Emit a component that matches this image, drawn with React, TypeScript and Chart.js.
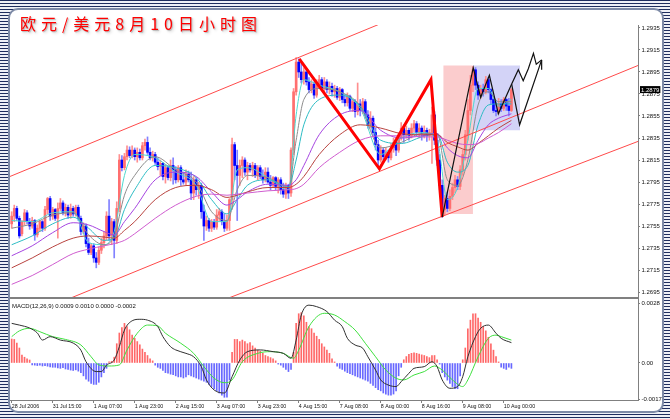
import React, { useEffect, useRef } from "react";
import { Chart, registerables } from "chart.js";

Chart.register(...registerables);

const FONT = '"Liberation Sans", Arial, sans-serif';

// ---------- price data (EUR/USD hourly, values in 1/10000, e.g. 12757 = 1.2757) ----------
const OPEN = [
  12757,12764,12771,12762,12748,12759,12767,12759,12755,12760,
  12747,12753,12759,12753,12770,12780,12764,12770,12762,12771,
  12776,12767,12772,12765,12771,12766,12772,12762,12750,12755,
  12739,12731,12737,12726,12722,12733,12740,12746,12764,12746,
  12759,12742,12771,12815,12808,12818,12824,12819,12824,12818,
  12822,12817,12828,12831,12822,12817,12820,12813,12809,12812,
  12800,12808,12799,12810,12806,12797,12808,12797,12795,12802,
  12797,12785,12797,12788,12792,12768,12755,12760,12753,12759,
  12754,12765,12768,12759,12753,12760,12779,12829,12810,12801,
  12810,12815,12804,12810,12806,12810,12801,12808,12800,12797,
  12804,12795,12792,12799,12791,12797,12788,12784,12792,12785,
  12824,12877,12904,12895,12888,12895,12886,12879,12884,12874,
  12883,12888,12880,12886,12879,12882,12877,12880,12872,12879,
  12870,12867,12873,12862,12868,12859,12866,12860,12868,12856,
  12847,12853,12840,12829,12815,12824,12818,12822,12817,12826,
  12831,12824,12835,12844,12838,12842,12837,12844,12848,12840,
  12844,12839,12842,12837,12840,12856,12833,12815,12792,12770,
  12780,12771,12782,12790,12797,12791,12806,12820,12838,12860,
  12883,12897,12883,12874,12880,12877,12888,12879,12870,12860,
  12859,12866,12862,12870,12864,12860,
];
const HIGH = [
  12768,12774,12773,12764,12760,12770,12769,12762,12763,12761,
  12756,12760,12760,12773,12781,12782,12772,12771,12776,12780,
  12778,12775,12774,12775,12773,12774,12774,12764,12758,12757,
  12744,12739,12739,12731,12736,12744,12750,12768,12779,12762,
  12761,12777,12820,12819,12821,12828,12827,12828,12826,12826,
  12825,12831,12834,12836,12826,12823,12822,12817,12815,12813,
  12811,12810,12815,12817,12809,12810,12810,12804,12806,12805,
  12804,12800,12799,12795,12794,12774,12764,12762,12761,12761,
  12770,12771,12770,12766,12765,12780,12835,12831,12824,12815,
  12818,12817,12813,12812,12813,12812,12810,12810,12806,12808,
  12808,12801,12800,12800,12799,12799,12794,12794,12793,12826,
  12880,12908,12907,12903,12899,12897,12890,12888,12886,12888,
  12892,12890,12890,12888,12886,12885,12883,12882,12881,12880,
  12874,12876,12874,12870,12870,12885,12870,12871,12870,12860,
  12859,12855,12844,12833,12828,12826,12826,12824,12830,12835,
  12833,12839,12849,12847,12846,12844,12848,12851,12850,12848,
  12846,12846,12844,12843,12863,12859,12839,12820,12797,12783,
  12786,12788,12794,12801,12800,12810,12824,12842,12870,12892,
  12900,12899,12886,12883,12884,12891,12890,12880,12871,12868,
  12871,12870,12872,12871,12871,12880,
];
const LOW = [
  12753,12759,12760,12744,12746,12756,12757,12752,12753,12742,
  12745,12750,12750,12751,12766,12760,12761,12760,12744,12769,
  12765,12764,12762,12762,12764,12764,12760,12747,12748,12736,
  12729,12729,12722,12717,12720,12730,12735,12742,12742,12738,
  12726,12739,12768,12805,12806,12815,12817,12817,12815,12813,
  12815,12815,12824,12820,12815,12814,12811,12806,12801,12797,
  12794,12797,12796,12793,12794,12795,12792,12793,12792,12795,
  12779,12779,12783,12780,12762,12742,12751,12750,12750,12752,
  12752,12760,12756,12750,12751,12751,12770,12797,12760,12792,
  12799,12801,12797,12804,12800,12799,12797,12798,12794,12795,
  12794,12788,12790,12788,12785,12784,12781,12780,12780,12782,
  12820,12874,12890,12885,12884,12883,12876,12876,12871,12872,
  12880,12878,12877,12876,12875,12873,12872,12870,12869,12867,
  12864,12864,12860,12859,12854,12856,12855,12857,12853,12844,
  12844,12837,12824,12808,12813,12815,12815,12813,12815,12822,
  12819,12822,12833,12831,12835,12833,12835,12840,12837,12835,
  12833,12835,12832,12833,12812,12829,12810,12788,12763,12765,
  12768,12769,12779,12785,12788,12788,12801,12815,12833,12856,
  12877,12879,12870,12871,12873,12875,12876,12866,12858,12855,
  12857,12859,12860,12860,12855,12859,
];
const CLOSE = [
  12764,12771,12762,12746,12759,12767,12759,12755,12760,12747,
  12753,12759,12753,12770,12780,12764,12770,12762,12771,12776,
  12767,12772,12765,12771,12766,12772,12762,12750,12755,12739,
  12731,12737,12726,12722,12733,12740,12746,12764,12746,12759,
  12742,12771,12815,12808,12818,12824,12819,12824,12818,12822,
  12817,12828,12831,12822,12817,12820,12813,12809,12812,12800,
  12808,12799,12810,12806,12797,12808,12797,12795,12802,12797,
  12785,12797,12788,12792,12768,12755,12760,12753,12759,12754,
  12765,12768,12759,12753,12760,12779,12829,12810,12801,12810,
  12815,12804,12810,12806,12810,12801,12808,12800,12797,12804,
  12795,12792,12799,12791,12797,12788,12784,12792,12785,12824,
  12877,12904,12895,12888,12895,12886,12879,12884,12874,12883,
  12888,12880,12886,12879,12882,12877,12880,12872,12879,12870,
  12867,12873,12862,12868,12859,12866,12860,12868,12856,12847,
  12853,12840,12829,12815,12824,12818,12822,12817,12826,12831,
  12824,12835,12844,12838,12842,12837,12844,12848,12840,12844,
  12839,12842,12837,12840,12856,12833,12815,12792,12770,12780,
  12771,12782,12790,12797,12791,12806,12820,12838,12860,12883,
  12897,12883,12874,12880,12877,12888,12879,12870,12860,12859,
  12866,12862,12870,12864,12860,12879,
];

// ---------- moving-average ribbon, read at these bars ----------
const MA_BARS = [0,8,16,24,30,36,40,44,48,56,64,72,78,84,88,92,100,108,111,114,120,128,136,144,152,160,166,170,174,178,182,186,190,195];
const MA_1 = [12760,12759,12767,12768,12740,12738,12750,12801,12820,12817,12804,12792,12759,12759,12806,12808,12799,12788,12856,12888,12883,12877,12862,12820,12835,12840,12833,12779,12790,12833,12880,12880,12864,12870];
const MA_2 = [12753,12757,12765,12767,12747,12738,12746,12783,12801,12818,12806,12795,12768,12760,12788,12801,12799,12790,12833,12870,12880,12877,12864,12826,12831,12839,12839,12797,12792,12815,12865,12877,12868,12868];
const MA_3 = [12738,12746,12757,12763,12753,12742,12744,12770,12788,12810,12808,12799,12779,12766,12779,12792,12797,12791,12815,12847,12870,12874,12864,12833,12830,12836,12839,12813,12804,12810,12847,12865,12866,12866];
const MA_4 = [12728,12737,12749,12758,12756,12750,12747,12759,12771,12797,12804,12800,12786,12774,12779,12786,12793,12792,12797,12810,12838,12856,12860,12842,12835,12837,12839,12826,12819,12817,12833,12847,12853,12857];
const MA_5 = [12717,12726,12736,12744,12746,12745,12744,12751,12759,12779,12790,12792,12788,12781,12783,12786,12790,12790,12793,12800,12820,12838,12847,12844,12839,12838,12838,12831,12827,12824,12830,12837,12844,12851];
const MA_6 = [12702,12710,12720,12730,12734,12737,12739,12742,12748,12762,12774,12782,12784,12783,12784,12785,12787,12788,12789,12793,12808,12822,12833,12837,12837,12836,12836,12833,12830,12829,12830,12835,12840,12848];
const MA_COLORS = ["#4fd8cf", "#8c8c8c", "#2cbcc4", "#a544e0", "#b8433f", "#cf5ccf"];

// ---------- drawn objects: [bar, price/10000] ----------
const CHANNEL_UPPER = [[-0.7, 12800], [143.0, 12938]];
const CHANNEL_MIDDLE = [[23.5, 12690], [244.5, 12901]];
const CHANNEL_LOWER = [[84.0, 12689], [244.5, 12832]];
const RED_ZIGZAG = [[112.2, 12907], [143.5, 12807], [163.6, 12888], [168.0, 12763]];
const BLACK_PATH = [[168.0, 12763], [180.1, 12899], [183.0, 12872], [186.4, 12892], [189.9, 12857], [195.1, 12884], [197.7, 12897], [199.6, 12887], [201.6, 12898], [203.6, 12912], [204.7, 12902], [206.8, 12906]];
const BLACK_BRANCH = [[195.1, 12884], [198.2, 12847], [206.8, 12906]];
const ARROW_TICK = [[206.8, 12906], [206.8, 12897]];
// zones: [fromBar, toBar, top, bottom]
const PINK_ZONE = [168.4, 180.0, 12901, 12766];
const BLUE_ZONE = [180.0, 198.4, 12901, 12842];

// ---------- axes ----------
const PRICE_TICKS = [1.2935, 1.2915, 1.2895, 1.2875, 1.2855, 1.2835, 1.2815, 1.2795, 1.2775, 1.2755, 1.2735, 1.2715, 1.2695];
const TIME_TICK_BARS = [0, 16, 32, 48, 64, 80, 96, 112, 128, 144, 160, 176, 192];
const TIME_TICK_LABELS = ["28 Jul 2006", "31 Jul 15:00", "1 Aug 07:00", "1 Aug 23:00", "2 Aug 15:00", "3 Aug 07:00", "3 Aug 23:00", "4 Aug 15:00", "7 Aug 08:00", "8 Aug 00:00", "8 Aug 16:00", "9 Aug 08:00", "10 Aug 00:00"];
const MACD_TICKS = [0.0028, 0, -0.0017];
const MACD_TICK_LABELS = ["0.0028", "0.00", "-0.0017"];
const MACD_LABEL = "MACD(12,26,9) 0.0009 0.0010 0.0000 -0.0002";
const TITLE = "欧元/美元8月10日小时图";

// ---------- MACD (values in 1/10000) ----------
const MACD_HIST = [
  11.2,11,9.3,7,3.7,2.7,1.9,1.4,-0.9,-1.0,
  -1.2,-1.0,-1.4,-1.2,-1.5,-1.8,-2.0,-2.0,-2.3,-2.5,
  -2.2,-2.8,-3.0,-3.3,-3.5,-3.2,-3.8,-4.5,-6.0,-7.5,
  -8.5,-9.5,-10.0,-10.0,-9.0,-6.5,-4.5,-2.5,0.6,0.8,
  2.7,9.0,14.0,16.5,18.5,17.0,15.5,13.0,11.5,10.0,
  8.5,6.5,5.0,3.5,2.0,1.0,-1.0,-2.0,-2.5,-3.5,
  -4.5,-4.8,-5.2,-5.5,-6.0,-6.5,-6.5,-7.0,-6.5,-5.5,
  -6.0,-6.5,-7.0,-7.5,-8.0,-8.5,-9.0,-10.0,-11.0,-12.0,
  -13.0,-14.0,-15.0,-16.0,-16.0,-8.0,5.0,11.0,11.0,10.0,
  10.7,10.0,9.0,9.5,8.0,7.0,6.0,5.5,4.5,3.5,
  3.0,2.5,2.0,1.0,-0.5,-1.0,-2.0,-3.0,-4.0,-3.0,
  5.0,18.5,23.0,23.5,22.0,19.0,17.0,16.0,14.0,12.5,
  11.0,9.0,7.5,6.0,4.5,2.0,0.5,-1.5,-2.5,-3.0,
  -3.8,-4.5,-5.0,-5.5,-6.0,-6.5,-7.0,-7.5,-8.0,-8.5,
  -9.5,-10.5,-11.5,-12.5,-13.0,-14.0,-14.5,-15.0,-15.0,-14.5,
  -13.0,-6.0,-2.0,1.5,3.0,4.0,4.5,4.8,4.5,4.2,
  3.8,3.5,3.0,2.5,3.5,3.5,1.5,-0.5,-4.5,-6.5,
  -8.0,-9.5,-11.0,-12.0,-12.0,-6.0,1.5,7.0,16.0,20.0,
  23.0,23.0,21.0,19.0,17.0,15.0,12.0,9.0,6.0,3.0,
  0.5,-2.0,-2.5,-3.0,-2.0,-2.5,
];
const MACD_BARS = [0,3,7,10,12,15,19,24,27,29,33,35,37,40,42,44,47,50,53,57,59,62,64,68,71,74,76,79,83,86,89,92,97,102,106,109,111,113,116,119,123,126,129,131,134,137,139,142,144,147,150,152,155,157,161,164,166,168,171,174,176,178,181,183,186,189,191,195];
const MACD_MAIN = [18.5,17.7,16.3,14,10.7,12.3,10.7,9.3,6,0.6,-4,-4,-1,1.4,7.6,15.4,19.7,20.4,20,17,12.3,7.6,6.1,4.5,2.9,-1.7,-7.9,-12.6,-14,-6.4,1.4,5.3,6.1,5.3,4.5,2.2,10.7,22.4,27,26.3,24,20,17,11.5,8.4,6.9,2.9,-3.3,-7.9,-10.3,-11,-8.7,-4.8,-2.5,-1.7,0.6,-1.7,-7.9,-11.8,-11,-6.4,2.9,12.3,16.2,17.7,13.9,11.5,9.5];
const SIGNAL_BARS = [0,3,7,11,16,21,27,31,34,38,42,45,49,53,57,60,66,71,75,79,83,86,90,96,101,106,110,112,116,122,126,130,134,138,142,146,150,153,157,161,165,168,172,176,178,182,186,189,191,195];
const MACD_SIGNAL = [12.3,15,16.2,14.6,12.3,11,8.4,2.9,-0.9,-1.4,-0.9,6.1,13.9,17.7,17.3,13.9,9.2,4.5,-1.7,-7.1,-9.2,-7.9,0.6,4.5,5.3,4.5,2.2,6,17,23.2,22.4,19.3,15.4,9.2,2.9,-3.3,-7.1,-7.9,-5.6,-4,-1.4,-3.3,-7.9,-11,-7.9,2.9,11.5,13,12.3,10.7];

// ---------- view ranges ----------
const X_MIN = -0.663;
const X_MAX = 244.4;
const PRICE_MIN = 1.26905;
const PRICE_MAX = 1.29377;
const MACD_MIN = -0.001727;
const MACD_MAX = 0.002987;

const toPrice = (v: number) => v / 10000;
const toPts = (arr: number[][]) => arr.map(([x, y]) => ({ x, y: toPrice(y) }));

function lineDs(data: any[], color: string, width: number, order: number, extra: any = {}) {
  return {
    type: "line",
    data,
    borderColor: color,
    borderWidth: width,
    pointRadius: 0,
    pointHoverRadius: 0,
    fill: false,
    tension: 0,
    order,
    ...extra,
  };
}

function zoneDs(zone: number[], color: string, order: number) {
  return {
    type: "line",
    data: [
      { x: zone[0], y: toPrice(zone[2]) },
      { x: zone[1], y: toPrice(zone[2]) },
    ],
    fill: { value: toPrice(zone[3]) },
    backgroundColor: color,
    borderColor: "rgba(0,0,0,0)",
    borderWidth: 0,
    pointRadius: 0,
    order,
  };
}

const zeroPad = (s: any) => {
  s.paddingTop = 0;
  s.paddingBottom = 0;
  s.paddingLeft = 0;
  s.paddingRight = 0;
};

function priceConfig(): any {
  const idx = CLOSE.map((_, i) => i);
  const up = idx.map((i) => CLOSE[i] >= OPEN[i]);
  const lastPrice = toPrice(CLOSE[CLOSE.length - 1]);
  const maLines = [MA_1, MA_2, MA_3, MA_4, MA_5, MA_6];

  const datasets: any[] = [
    zoneDs(PINK_ZONE, "#fbcccd", 40),
    zoneDs(BLUE_ZONE, "#d3d3f7", 39),
    {
      type: "bar",
      data: idx.map((i) => ({ x: i, y: [toPrice(LOW[i]), toPrice(HIGH[i])] })),
      backgroundColor: up.map((u) => (u ? "#ff8f8f" : "#8282ff")),
      barThickness: 1,
      grouped: false,
      borderWidth: 0,
      order: 30,
    },
    {
      type: "bar",
      data: idx.map((i) => ({ x: i, y: [toPrice(OPEN[i]), toPrice(CLOSE[i])] })),
      backgroundColor: up.map((u) => (u ? "#ff6f6f" : "#0000ff")),
      barThickness: 2,
      minBarLength: 1,
      grouped: false,
      borderWidth: 0,
      order: 29,
    },
    ...maLines.map((vals, k) =>
      lineDs(
        MA_BARS.map((b, j) => ({ x: b, y: toPrice(vals[j]) })),
        MA_COLORS[k],
        1,
        20 - k,
        { cubicInterpolationMode: "monotone" }
      )
    ),
    lineDs(toPts(CHANNEL_UPPER), "#ff4a4a", 1, 6),
    lineDs(toPts(CHANNEL_MIDDLE), "#ff4a4a", 1, 6),
    lineDs(toPts(CHANNEL_LOWER), "#ff4a4a", 1, 6),
    lineDs(toPts(RED_ZIGZAG), "#ff0000", 3, 4, { borderJoinStyle: "miter" }),
    lineDs(toPts(BLACK_PATH), "#111111", 1.2, 2, { borderJoinStyle: "miter" }),
    lineDs(toPts(BLACK_BRANCH), "#111111", 1.2, 2, { borderJoinStyle: "miter" }),
    lineDs(toPts(ARROW_TICK), "#111111", 1.2, 2),
  ];

  const lastPricePlugin = {
    id: "lastPriceBox",
    afterDraw(chart: any) {
      const { ctx, chartArea, scales } = chart;
      const y = scales.y.getPixelForValue(lastPrice);
      const t = lastPrice.toFixed(4);
      ctx.save();
      ctx.font = `6px ${FONT}`;
      const w = ctx.measureText(t).width;
      ctx.fillStyle = "#000";
      ctx.fillRect(chartArea.right + 2, y - 3.5, w + 2, 7);
      ctx.fillStyle = "#fff";
      ctx.textBaseline = "middle";
      ctx.textAlign = "left";
      ctx.fillText(t, chartArea.right + 3, y + 0.3);
      ctx.restore();
    },
  };

  return {
    type: "bar",
    data: { datasets },
    plugins: [lastPricePlugin],
    options: {
      animation: false,
      responsive: false,
      maintainAspectRatio: false,
      events: [],
      layout: { padding: { top: 15, left: 0, right: 0, bottom: 0 } },
      plugins: { legend: { display: false }, tooltip: { enabled: false }, title: { display: false } },
      scales: {
        x: {
          type: "linear",
          min: X_MIN,
          max: X_MAX,
          display: false,
          offset: false,
          grid: { offset: false },
        },
        y: {
          type: "linear",
          position: "right",
          min: PRICE_MIN,
          max: PRICE_MAX,
          afterFit: (s: any) => {
            s.width = 24;
            zeroPad(s);
          },
          afterBuildTicks: (s: any) => {
            s.ticks = PRICE_TICKS.map((v) => ({ value: v }));
          },
          ticks: {
            autoSkip: false,
            color: "#111",
            padding: 1.5,
            font: { family: FONT, size: 6 },
            callback: (v: any) => Number(v).toFixed(4),
          },
          grid: { drawOnChartArea: false, drawTicks: true, tickLength: 2, color: "#808080" },
          border: { display: true, color: "#808080", width: 1 },
        },
      },
    },
  };
}

function macdConfig(): any {
  const idx = MACD_HIST.map((_, i) => i);
  const labelPlugin = {
    id: "macdLabel",
    afterDraw(chart: any) {
      const { ctx, chartArea } = chart;
      ctx.save();
      ctx.font = `6px ${FONT}`;
      ctx.fillStyle = "#111";
      ctx.textBaseline = "middle";
      ctx.textAlign = "left";
      ctx.fillText(MACD_LABEL, chartArea.left + 2, chartArea.top + 7);
      ctx.restore();
    },
  };
  return {
    type: "bar",
    data: {
      datasets: [
        {
          type: "bar",
          data: idx.map((i) => ({ x: i, y: MACD_HIST[i] / 10000 })),
          backgroundColor: MACD_HIST.map((v) => (v >= 0 ? "#ff6868" : "#6868ff")),
          barThickness: 1,
          grouped: false,
          borderWidth: 0,
          order: 5,
        },
        lineDs(
          SIGNAL_BARS.map((b, j) => ({ x: b, y: MACD_SIGNAL[j] / 10000 })),
          "#3fe03f",
          1,
          3,
          { cubicInterpolationMode: "monotone" }
        ),
        lineDs(
          MACD_BARS.map((b, j) => ({ x: b, y: MACD_MAIN[j] / 10000 })),
          "#303030",
          1,
          2,
          { cubicInterpolationMode: "monotone" }
        ),
      ],
    },
    plugins: [labelPlugin],
    options: {
      animation: false,
      responsive: false,
      maintainAspectRatio: false,
      events: [],
      layout: { padding: 0 },
      plugins: { legend: { display: false }, tooltip: { enabled: false }, title: { display: false } },
      scales: {
        x: {
          type: "linear",
          min: X_MIN,
          max: X_MAX,
          offset: false,
          afterFit: (s: any) => {
            s.height = 11;
            zeroPad(s);
          },
          afterBuildTicks: (s: any) => {
            s.ticks = TIME_TICK_BARS.map((v) => ({ value: v }));
          },
          ticks: {
            autoSkip: false,
            maxRotation: 0,
            minRotation: 0,
            align: "start",
            padding: 0.5,
            color: "#111",
            font: { family: FONT, size: 5.3 },
            callback: (v: any) => {
              const k = TIME_TICK_BARS.indexOf(Number(v));
              return k >= 0 ? TIME_TICK_LABELS[k] : "";
            },
          },
          grid: { drawOnChartArea: false, drawTicks: true, tickLength: 3, color: "#808080", offset: false },
          border: { display: true, color: "#808080", width: 1 },
        },
        y: {
          type: "linear",
          position: "right",
          min: MACD_MIN,
          max: MACD_MAX,
          afterFit: (s: any) => {
            s.width = 24;
            zeroPad(s);
          },
          afterBuildTicks: (s: any) => {
            s.ticks = MACD_TICKS.map((v) => ({ value: v }));
          },
          ticks: {
            autoSkip: false,
            color: "#111",
            padding: 1.5,
            font: { family: FONT, size: 6 },
            callback: (v: any) => {
              const k = MACD_TICKS.indexOf(Number(v));
              return k >= 0 ? MACD_TICK_LABELS[k] : "";
            },
          },
          grid: { drawOnChartArea: false, drawTicks: true, tickLength: 2, color: "#808080" },
          border: { display: true, color: "#808080", width: 1 },
        },
      },
    },
  };
}

export default function App() {
  const priceRef = useRef<HTMLCanvasElement>(null);
  const macdRef = useRef<HTMLCanvasElement>(null);

  useEffect(() => {
    const pc = new Chart(priceRef.current as HTMLCanvasElement, priceConfig());
    const mc = new Chart(macdRef.current as HTMLCanvasElement, macdConfig());
    return () => {
      pc.destroy();
      mc.destroy();
    };
  }, []);

  return (
    <div
      style={{
        position: "absolute",
        left: 0,
        top: 0,
        width: 670,
        height: 419,
        overflow: "hidden",
        background:
          "repeating-linear-gradient(to bottom, #1e2d5e 0px, #1e2d5e 1.5px, #eef0f6 1.5px, #eef0f6 3px)",
      }}
    >
      <div
        style={{
          position: "absolute",
          left: 8,
          top: 8,
          width: 656,
          height: 405,
          boxSizing: "border-box",
          border: "2px solid #7d8aa6",
          borderRadius: 10,
          background: "#ffffff",
        }}
      />
      <canvas
        ref={priceRef}
        width={652}
        height={287}
        style={{ position: "absolute", left: 10, top: 10, width: 652, height: 287 }}
      />
      <div style={{ position: "absolute", left: 10, top: 297, width: 629, height: 2, background: "#808080" }} />
      <canvas
        ref={macdRef}
        width={652}
        height={112}
        style={{ position: "absolute", left: 10, top: 299, width: 652, height: 112 }}
      />
      <div
        style={{
          position: "absolute",
          left: 20,
          top: 14,
          fontFamily: '"Noto Sans CJK SC", sans-serif',
          fontSize: 16,
          lineHeight: "19px",
          letterSpacing: 5,
          color: "#ff0000",
          whiteSpace: "nowrap",
          textShadow: "1px 1px 1px #b8b8b8, 2px 2px 3px #d4d4d4",
        }}
      >
        {TITLE}
      </div>
    </div>
  );
}
